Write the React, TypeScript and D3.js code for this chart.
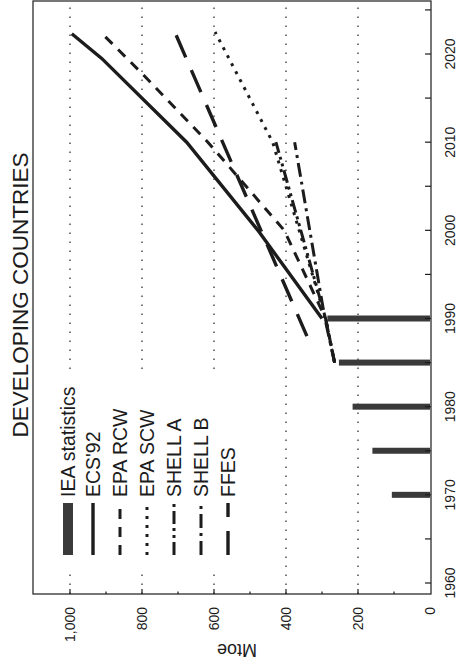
import React from 'react';
import * as d3 from 'd3';

// --- data ---
const ieaYears = [1970, 1975, 1980, 1985, 1990];
const ieaValues = [106, 160, 215, 253, 285];

const ecsYears = [1990, 2000, 2010, 2019.5, 2022.3];
const ecsValues = [300, 478, 676, 912, 995];

const epaRcwYears = [1985, 1990, 2000, 2010, 2018, 2022.2];
const epaRcwValues = [265, 290, 405, 617, 805, 908];

const epaScwYears = [1985, 1990, 2010, 2022.5];
const epaScwValues = [265, 290, 437, 597];

const shellAYears = [1985, 1990, 2010];
const shellAValues = [265, 290, 428];

const shellBYears = [1985, 1990, 2010];
const shellBValues = [265, 292, 376];

const ffesYears = [1988, 2022.4];
const ffesValues = [342, 708];

const yearTicks = [1960, 1965, 1970, 1975, 1980, 1985, 1990, 1995, 2000, 2005, 2010, 2015, 2020, 2025];
const yearLabels = [1960, 1970, 1980, 1990, 2000, 2010, 2020];
const mtoeTicks = [100, 200, 300, 400, 500, 600, 700, 800, 900, 1000];
const mtoeLabels = [0, 200, 400, 600, 800, 1000];

// chart is drawn upright (years across) then turned a quarter to the left
const W = 662;
const H = 462;
const FONT = '"Liberation Sans", Arial, Helvetica, sans-serif';
const INK = '#1c1c1c';

const x = d3.scaleLinear().domain([1960, 2020]).range([79, 608]);
const y = d3.scaleLinear().domain([0, 1000]).range([430, 70]);
const plot = { left: 68, right: 661, top: 33, bottom: 431 };

const zip = (xs: number[], vs: number[]) => xs.map((yr, i) => [yr, vs[i]] as [number, number]);
const line = d3.line<[number, number]>().x(d => x(d[0])).y(d => y(d[1]));

const series = [
  { name: "ECS'92", data: zip(ecsYears, ecsValues), width: 3.4, dash: null },
  { name: 'EPA RCW', data: zip(epaRcwYears, epaRcwValues), width: 3, dash: '10 8' },
  { name: 'EPA SCW', data: zip(epaScwYears, epaScwValues), width: 3, dash: '3 6' },
  { name: 'SHELL A', data: zip(shellAYears, shellAValues), width: 3, dash: '13 4 3 4 3 4' },
  { name: 'SHELL B', data: zip(shellBYears, shellBValues), width: 3, dash: '14 5 3 5' },
  { name: 'FFES', data: zip(ffesYears, ffesValues), width: 3.4, dash: '24 14' },
];

const legendRows = ['IEA statistics', ...series.map(s => s.name)];

export default function App() {
  return (
    <svg width={H} height={W} style={{ position: 'absolute', left: 0, top: 0, background: '#fff' }}
      fontFamily={FONT}>
      <g transform={`translate(0,${W}) rotate(-90)`}>
        {/* title */}
        <text x={367} y={28} textAnchor="middle" fontSize={22.5} fill={INK}>DEVELOPING COUNTRIES</text>

        {/* dotted grid */}
        {mtoeLabels.filter(v => v > 0).map(v => (
          <line key={v} x1={plot.left} x2={plot.right} y1={y(v)} y2={y(v)}
            stroke="#333" strokeWidth={1.3} strokeDasharray="1.5 7.5" />
        ))}

        {/* legend, white box hides the grid behind it */}
        <rect x={88} y={55} width={200} height={190} fill="#fff" />
        {legendRows.map((name, i) => {
          const ly = 68 + i * 27 + (i > 0 ? -2 : 0);
          const s = series[i - 1];
          return (
            <g key={name}>
              {i === 0 ? (
                <rect x={107} y={ly - 5} width={52} height={10} fill="#3a3a3a" />
              ) : (
                <line x1={107} x2={159} y1={ly} y2={ly} stroke={INK} strokeWidth={s.width}
                  strokeDasharray={s.dash ?? undefined} />
              )}
              <text x={165} y={ly} dy="0.36em" fontSize={19.5} fill={INK}>{name}</text>
            </g>
          );
        })}

        {/* IEA bars */}
        {ieaYears.map((yr, i) => (
          <rect key={yr} x={x(yr) - 3} y={y(ieaValues[i])} width={6}
            height={y(0) - y(ieaValues[i])} fill="#3a3a3a" />
        ))}

        {/* projections */}
        {series.map(s => (
          <path key={s.name} d={line(s.data) ?? ''} fill="none" stroke={INK}
            strokeWidth={s.width} strokeDasharray={s.dash ?? undefined} />
        ))}

        {/* frame */}
        <rect x={plot.left} y={plot.top} width={plot.right - plot.left} height={plot.bottom - plot.top}
          fill="none" stroke={INK} strokeWidth={1.2} />

        {/* year axis */}
        {yearTicks.map(t => (
          <line key={t} x1={x(t)} x2={x(t)} y1={plot.bottom} y2={plot.bottom - 6} stroke={INK} strokeWidth={1.2} />
        ))}
        {yearLabels.map(t => (
          <text key={t} x={x(t)} y={455} textAnchor="middle" fontSize={14} fill={INK}>{t}</text>
        ))}

        {/* Mtoe axis */}
        {mtoeTicks.map(v => (
          <line key={v} x1={plot.left} x2={plot.left + (v % 200 === 0 ? 5 : 2.5)} y1={y(v)} y2={y(v)}
            stroke={INK} strokeWidth={1.2} />
        ))}
        {mtoeLabels.map(v => (
          <text key={v} x={55} y={y(v)} dy="0.35em" textAnchor="end" fontSize={14} fill={INK}>
            {d3.format(',')(v)}
          </text>
        ))}
        <text transform={`translate(18,237) rotate(-90)`} textAnchor="middle" fontSize={18} fill={INK}>Mtoe</text>
      </g>
    </svg>
  );
}
